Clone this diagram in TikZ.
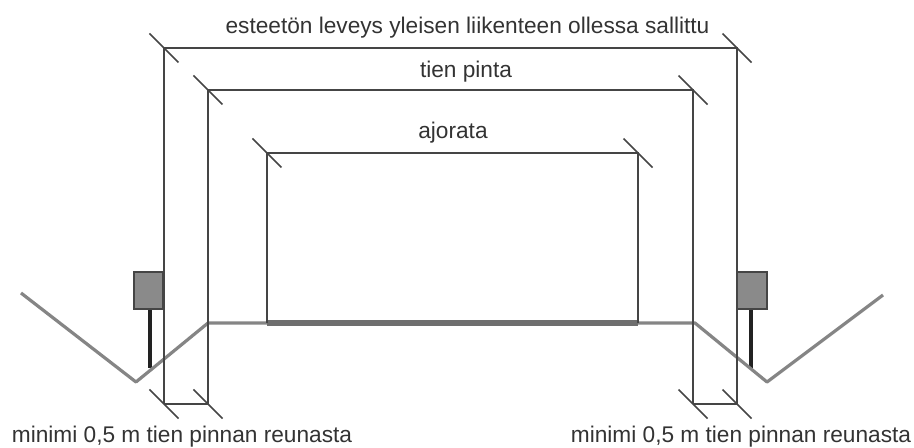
\documentclass[tikz,border=0pt]{standalone}
\usepackage{fontspec}
\setmainfont{Liberation Sans}
\definecolor{ink}{HTML}{454545}
\definecolor{txt}{HTML}{333333}
\definecolor{soil}{HTML}{858585}
\definecolor{asphalt}{HTML}{6E6E6E}
\definecolor{signfill}{HTML}{8A8A8A}
\definecolor{post}{HTML}{222222}
\newcommand\tickmark[1]{\draw[dim] ([shift={(-14.5,-14.5)}]#1) -- ([shift={(14.5,14.5)}]#1);}
\begin{document}
\begin{tikzpicture}[x=0.75pt,y=-0.75pt,
  dim/.style={draw=ink, line width=1.3pt},
  ground/.style={draw=soil, line width=2.4pt, line join=round},
  surface/.style={draw=asphalt, line width=4.5pt},
  signbox/.style={draw=ink, fill=signfill, line width=1.2pt},
  signpost/.style={draw=post, line width=3.6pt},
  lbl/.style={font=\fontsize{17}{20}\selectfont, text=txt, inner sep=0pt, anchor=base}]
\useasboundingbox (0,0) rectangle (914,448);
% corners of the three widths
\coordinate (ot1) at (164,48);  \coordinate (ot2) at (737,48);
\coordinate (mt1) at (208,90);  \coordinate (mt2) at (693,90);
\coordinate (it1) at (267,153); \coordinate (it2) at (638,153);
\coordinate (ob1) at (164,404); \coordinate (ob2) at (737,404);
\coordinate (mb1) at (208,404); \coordinate (mb2) at (693,404);
\coordinate (ib1) at (267,323); \coordinate (ib2) at (638,323);
% ground profile
\coordinate (g0) at (21,293);  \coordinate (g1) at (136,382);
\coordinate (g2) at (208,323); \coordinate (g3) at (695,323);
\coordinate (g4) at (767,382); \coordinate (g5) at (883,295);
% labels
\node[lbl] (wide) at (467.5,34) {esteetön leveys yleisen liikenteen ollessa sallittu};
\node[lbl] (road) at (466,78) {tien pinta};
\node[lbl] (lane) at (453,139) {ajorata};
\node[lbl] (minl) at (182,443) {minimi 0,5 m tien pinnan reunasta};
\node[lbl] (minr) at (741,443) {minimi 0,5 m tien pinnan reunasta};
% signs
\draw[signpost] (150,309) -- (150,368);
\draw[signpost] (751,309) -- (751,368);
\draw[signbox] (134,272) rectangle (163,309);
\draw[signbox] (737,272) rectangle (767,309);
% ground and road
\draw[ground] (g0) -- (g1) -- (g2) -- (g3) -- (g4) -- (g5);
\draw[surface] (ib1) -- (ib2);
% dimension lines
\draw[dim] (ob1) -- (ot1) -- (ot2) -- (ob2);
\draw[dim] (mb1) -- (mt1) -- (mt2) -- (mb2);
\draw[dim] (ib1) -- (it1) -- (it2) -- (ib2);
\draw[dim] (ob1) -- (mb1);
\draw[dim] (mb2) -- (ob2);
\tickmark{ot1} \tickmark{ot2}
\tickmark{mt1} \tickmark{mt2}
\tickmark{it1} \tickmark{it2}
\tickmark{ob1} \tickmark{mb1}
\tickmark{mb2} \tickmark{ob2}
\end{tikzpicture}
\end{document}
